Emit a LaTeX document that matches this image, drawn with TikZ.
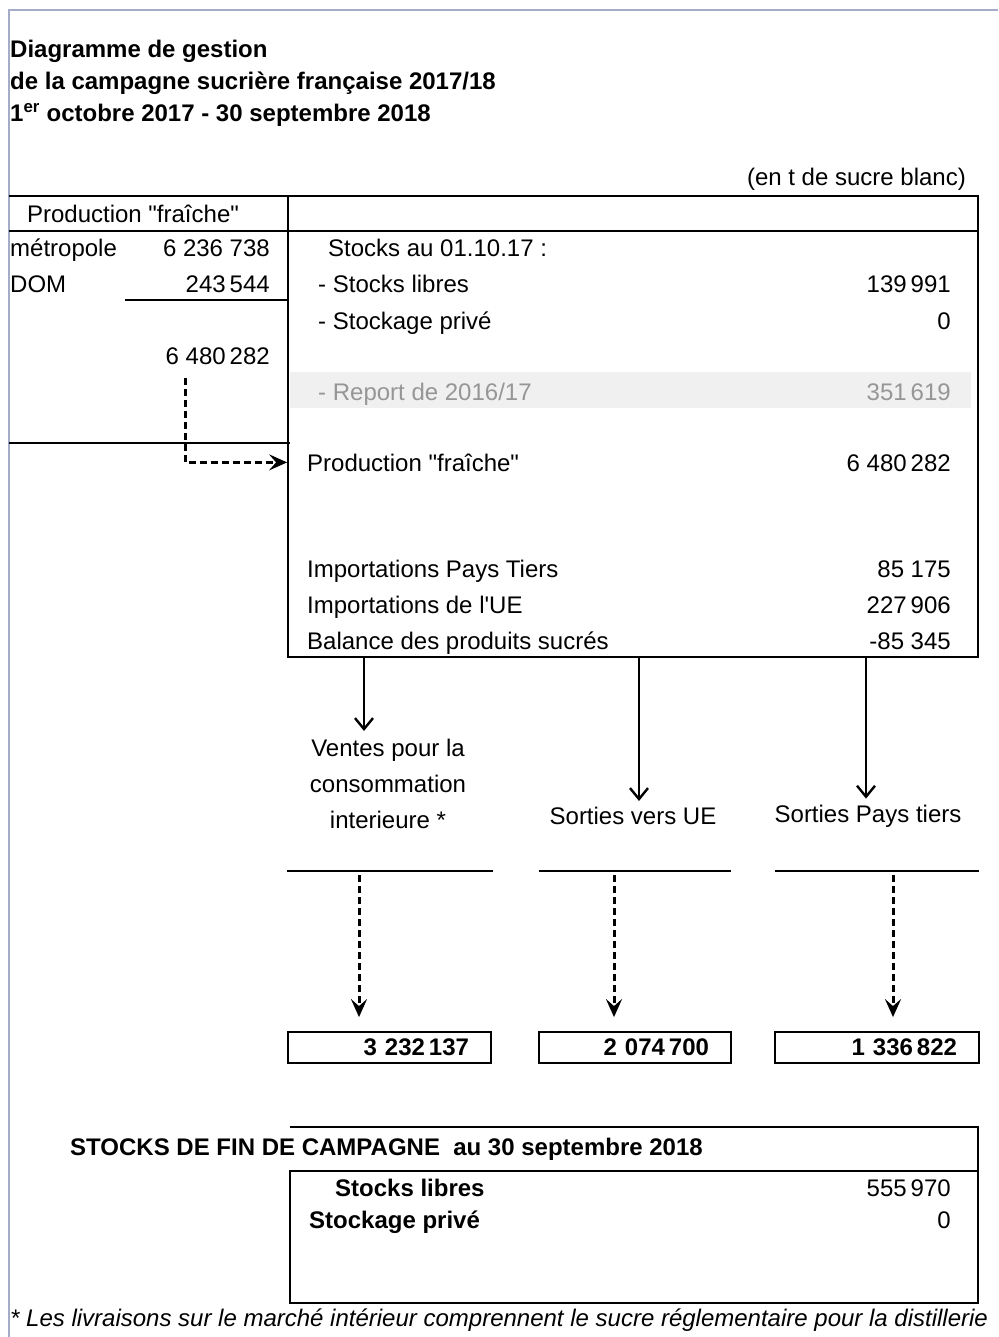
\documentclass[tikz,border=0pt]{standalone}
\usepackage{fontspec}
\setmainfont{Liberation Sans}
\usetikzlibrary{positioning,arrows.meta}
\definecolor{cadrecolor}{RGB}{165,172,200}
\definecolor{reportcolor}{RGB}{150,150,150}

\begin{document}
\begin{tikzpicture}[
  x=1pt, y=-1pt,
  every node/.style={font=\fontsize{24}{36}\selectfont, inner sep=0pt},
  txt/.style={anchor=base west},
  val/.style={anchor=base east},
  titre/.style={anchor=base west, font=\fontsize{24}{32}\selectfont\bfseries},
  trait/.style={line width=1.8pt},
  boite/.style={draw, line width=1.8pt, inner sep=0pt},
  total/.style={draw, line width=1.8pt, minimum height=31pt, inner xsep=22pt, align=right, font=\fontsize{24}{28}\selectfont\bfseries},
  fleche/.style={-{Straight Barb[length=11pt,width=18pt,line width=2.4pt]}, line width=2.4pt},
  pointille/.style={-{Stealth[length=18pt,width=16pt,inset=7pt]}, line width=3pt, dash pattern=on 7pt off 4pt}
]
  \useasboundingbox (0,0) rectangle (998,1337);
  \draw[cadrecolor, line width=1.2pt] (9,1337) -- (9,10) -- (998,10);

  % Titre
  \node[titre] (titre1) at (10,58) {Diagramme de gestion};
  \node[titre] (titre2) at (10,90) {de la campagne sucrière française 2017/18};
  \node[titre] (titre3) at (10,122) {1\textsuperscript{er} octobre 2017 - 30 septembre 2018};
  \node[val] (unite) at (966,186) {(en t de sucre blanc)};

  % Tableau production
  \fill[gray!12] (290,372) rectangle (971,408);
  \node[boite, minimum width=690pt, minimum height=461pt] (bilan) at (633,426.5) {};
  \draw[trait] (9,196) -- (978,196);
  \draw[trait] (9,231) -- (978,231);
  \draw[trait] (125,300) -- (288,300);
  \draw[trait] (9,443) -- (290,443);

  \node (prodL) at (133,214) {Production \textquotedbl fraîche\textquotedbl};
  \node[txt] (metro) at (10,257) {métropole};
  \node[val] (metroV) at (270,257) {6 236 738};
  \node[txt] (dom) at (10,293) {DOM};
  \node[val] (domV) at (270,293) {243\,544};
  \node[val] (sumL) at (270,364) {6 480\,282};

  % Bilan
  \node[txt] (stocks) at (328,257) {Stocks au 01.10.17 :};
  \node[txt] (libres) at (318,293) {- Stocks libres};
  \node[val] (libresV) at (951,293) {139\,991};
  \node[txt] (prive) at (318,329) {- Stockage privé};
  \node[val] (priveV) at (951,329) {0};
  \node[txt, reportcolor] (report) at (318,400) {- Report de 2016/17};
  \node[val, reportcolor] (reportV) at (951,400) {351\,619};
  \node[txt] (prodR) at (307,471) {Production \textquotedbl fraîche\textquotedbl};
  \node[val] (prodRV) at (951,471) {6 480\,282};
  \node[txt] (imPT) at (307,577) {Importations Pays Tiers};
  \node[val] (imPTV) at (951,577) {85 175};
  \node[txt] (imUE) at (307,613) {Importations de l\textquotesingle UE};
  \node[val] (imUEV) at (951,613) {227\,906};
  \node[txt] (bal) at (307,649) {Balance des produits sucrés};
  \node[val] (balV) at (951,649) {-85 345};

  \coordinate (depart) at (185,378);
  \draw[pointille] (depart) |- (bilan.west |- prodR.west);

  % Sorties
  \node[align=center] (ventes) at (388,784) {Ventes pour la\\consommation\\interieure *};
  \node (sortUE) at (633,816) {Sorties vers UE};
  \node (sortPT) at (868,816) {Sorties Pays tiers};

  \coordinate (f1) at (364,658);
  \coordinate (f2) at (639,658);
  \coordinate (f3) at (866,658);
  \draw[fleche, shorten >=8pt] (f1) -- (f1 |- ventes.north);
  \draw[fleche, shorten >=6pt] (f2) -- (f2 |- sortUE.north);
  \draw[fleche, shorten >=6pt] (f3) -- (f3 |- sortPT.north);

  \draw[trait] (287,871) -- (493,871);
  \draw[trait] (539,871) -- (731,871);
  \draw[trait] (775,871) -- (979,871);

  \node[total, text width=159pt] (vbox) at (389.5,1047.5) {3 232\,137};
  \node[total, text width=148pt] (uebox) at (635,1047.5) {2 074\,700};
  \node[total, text width=160pt] (ptbox) at (877,1047.5) {1 336\,822};

  \coordinate (d1) at (359,875);
  \coordinate (d2) at (614,875);
  \coordinate (d3) at (893,875);
  \draw[pointille, shorten >=14pt] (d1) -- (d1 |- vbox.north);
  \draw[pointille, shorten >=14pt] (d2) -- (d2 |- uebox.north);
  \draw[pointille, shorten >=14pt] (d3) -- (d3 |- ptbox.north);

  % Stocks de fin
  \draw[trait] (290,1127) -- (978,1127) -- (978,1303) -- (290,1303) -- (290,1171) -- (978,1171);
  \node[titre] (fin) at (70,1155) {STOCKS DE FIN DE CAMPAGNE\ \ au 30 septembre 2018};
  \node[txt, font=\fontsize{24}{36}\selectfont\bfseries] (finL) at (335,1196) {Stocks libres};
  \node[val] (finLV) at (951,1196) {555\,970};
  \node[txt, font=\fontsize{24}{36}\selectfont\bfseries] (finP) at (309,1228) {Stockage privé};
  \node[val] (finPV) at (951,1228) {0};

  \node[txt, font=\fontsize{24}{36}\selectfont\itshape] (note) at (10,1326) {* Les livraisons sur le marché intérieur comprennent le sucre réglementaire pour la distillerie};
\end{tikzpicture}
\end{document}
